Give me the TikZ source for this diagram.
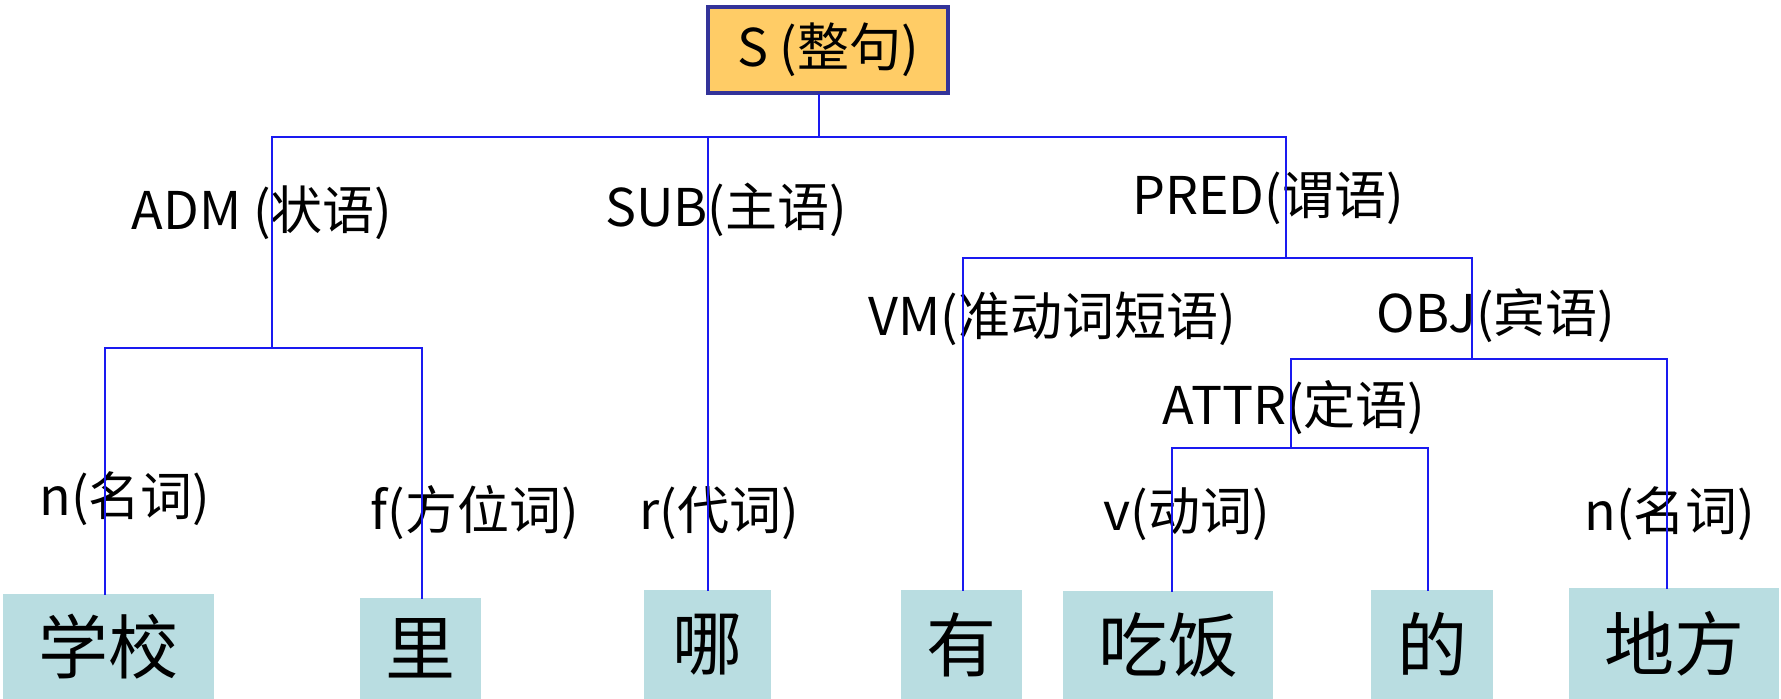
\documentclass[tikz,border=0pt]{standalone}
\usepackage{fontspec}
\newfontfamily\cjk{Noto Sans CJK SC}
\definecolor{treeblue}{HTML}{1A1AF0}
\definecolor{boxblue}{HTML}{B9DDE1}
\definecolor{topfill}{HTML}{FFCC66}
\definecolor{topdraw}{HTML}{333399}
\tikzset{
  lbl/.style={font=\cjk\fontsize{52}{60}\selectfont, inner sep=0pt, text=black},
  wordbox/.style={fill=boxblue, inner sep=0pt, font=\cjk\fontsize{70}{80}\selectfont, text=black},
  rootbox/.style={fill=topfill, draw=topdraw, line width=4pt, inner sep=0pt, font=\cjk\fontsize{52}{60}\selectfont},
  tree/.style={draw=treeblue, line width=2.1pt, line cap=rect}
}
\begin{document}
\begin{tikzpicture}[x=1pt,y=-1pt]
\useasboundingbox[fill=white] (0,0) rectangle (1781,699);

% root
\node[rootbox, minimum width=240pt, minimum height=86pt] (S) at (828,50) {S (整句)};

% word boxes
\node[wordbox, minimum width=211pt, minimum height=105pt] (w1) at (108.5,646.5) {学校};
\node[wordbox, minimum width=121pt, minimum height=101pt] (w2) at (420.5,648.5) {里};
\node[wordbox, minimum width=127pt, minimum height=109pt] (w3) at (707.5,644.5) {哪};
\node[wordbox, minimum width=121pt, minimum height=109pt] (w4) at (961.5,644.5) {有};
\node[wordbox, minimum width=210pt, minimum height=108pt] (w5) at (1168,645) {吃饭};
\node[wordbox, minimum width=122pt, minimum height=109pt] (w6) at (1432,644.5) {的};
\node[wordbox, minimum width=210pt, minimum height=111pt] (w7) at (1674,643.5) {地方};

% labels
\node[lbl] (lADM)  at (262,213) {ADM (状语)};
\node[lbl] (lSUB)  at (726,210) {SUB(主语)};
\node[lbl] (lPRED) at (1268,198) {PRED(谓语)};
\node[lbl] (lVM)   at (1052,319) {VM(准动词短语)};
\node[lbl] (lOBJ)  at (1496,316) {OBJ(宾语)};
\node[lbl] (lATTR) at (1294,408) {ATTR(定语)};
\node[lbl] (ln1)   at (125,499) {n(名词)};
\node[lbl] (lf)    at (475,513) {f(方位词)};
\node[lbl] (lr)    at (719,513) {r(代词)};
\node[lbl] (lv)    at (1187,514) {v(动词)};
\node[lbl] (ln2)   at (1670,514) {n(名词)};

% junction coordinates
\coordinate (b0) at (819,137);
\coordinate (a0) at (272,137);
\coordinate (a1) at (272,348);
\coordinate (a2) at (105,348);
\coordinate (a3) at (422,348);
\coordinate (s0) at (708,137);
\coordinate (p0) at (1286,137);
\coordinate (p1) at (1286,258);
\coordinate (p2) at (963,258);
\coordinate (p3) at (1472,258);
\coordinate (o1) at (1472,359);
\coordinate (o2) at (1291,359);
\coordinate (o3) at (1667,359);
\coordinate (t1) at (1291,448);
\coordinate (t2) at (1172,448);
\coordinate (t3) at (1428,448);

% connectors
\draw[tree] (S.south -| b0) -- (b0);
\draw[tree] (a0) -- (p0);
\draw[tree] (a0) -- (a1);
\draw[tree] (a2) -- (a3);
\draw[tree] (a2) -- (w1.north -| a2);
\draw[tree] (a3) -- (w2.north -| a3);
\draw[tree] (s0) -- (w3.north -| s0);
\draw[tree] (p0) -- (p1);
\draw[tree] (p2) -- (p3);
\draw[tree] (p2) -- (w4.north -| p2);
\draw[tree] (p3) -- (o1);
\draw[tree] (o2) -- (o3);
\draw[tree] (o3) -- (w7.north -| o3);
\draw[tree] (o2) -- (t1);
\draw[tree] (t2) -- (t3);
\draw[tree] (t2) -- (w5.north -| t2);
\draw[tree] (t3) -- (w6.north -| t3);
\end{tikzpicture}
\end{document}
